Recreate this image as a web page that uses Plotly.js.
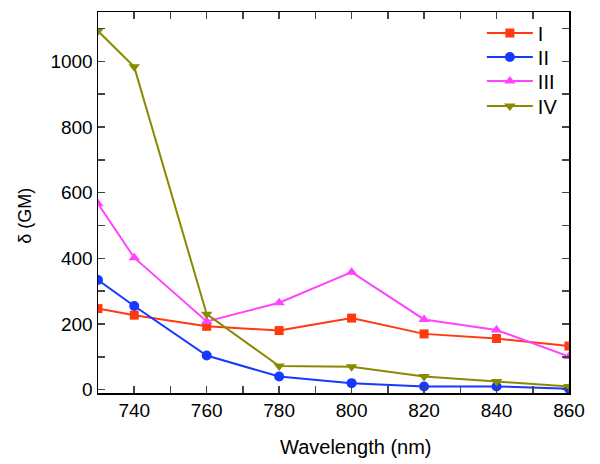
<!DOCTYPE html>
<html>
<head>
<meta charset="utf-8">
<script src="https://cdn.plot.ly/plotly-3.0.1.min.js"></script>
<style>
  html, body { margin: 0; padding: 0; background: #fff; }
  #chart { width: 600px; height: 464px; }
</style>
</head>
<body>
<div id="chart"></div>
<script>
// wavelength (nm) and two-photon cross-section (GM) per compound
let wavelength = [730, 740, 760, 780, 800, 820, 840, 860];
let seriesI   = [247, 227, 193, 180, 218, 170, 156, 133];
let seriesII  = [334, 255, 104, 40, 20, 10, 10, 3];
let seriesIII = [566, 402, 208, 265, 358, 214, 182, 101];
let seriesIV  = [1092, 983, 230, 72, 70, 40, 25, 10];
let names = ["I", "II", "III", "IV"];
let xTicks = [740, 760, 780, 800, 820, 840, 860];
let yTicks = [0, 200, 400, 600, 800, 1000];

const FONT = "Liberation Sans, Arial, sans-serif";

function trace(y, name, color, symbol, size, legendId) {
	return {
		x: wavelength,
		y: y,
		name: name,
		type: 'scatter',
		mode: 'lines+markers',
		line: { color: color, width: 2 },
		marker: { color: color, symbol: symbol, size: size },
		legend: legendId,
	};
}

let data = [
	trace(seriesI, names[0], "#ff3a10", "square", 9, "legend"),
	trace(seriesII, names[1], "#1638ff", "circle", 10, "legend2"),
	trace(seriesIII, names[2], "#ff44ff", "triangle-up", 10, "legend3"),
	trace(seriesIV, names[3], "#8a8a00", "triangle-down", 10, "legend4"),
];

// one legend box per entry so the rows can sit as tight as the original
function legendAt(y) {
	return {
		x: 0.815, y: y, xanchor: 'left', yanchor: 'middle',
		font: { family: FONT, size: 20, color: "#000" },
		bgcolor: 'rgba(0,0,0,0)',
		itemwidth: 46,
	};
}

let axisFont = { family: FONT, size: 19, color: "#000" };

let layout = {
	width: 600,
	height: 464,
	margin: { l: 98, r: 31, t: 12, b: 71 },
	paper_bgcolor: "#fff",
	plot_bgcolor: "#fff",
	showlegend: true,
	legend: legendAt(0.945),
	legend2: legendAt(0.882),
	legend3: legendAt(0.819),
	legend4: legendAt(0.753),
	xaxis: {
		range: [730, 860],
		tickvals: xTicks,
		ticks: 'inside',
		ticklen: 7,
		tickwidth: 1.5,
		minor: { dtick: 10, tick0: 730, ticks: 'inside', ticklen: 7, tickwidth: 1.5 },
		showline: true,
		linecolor: "#000",
		linewidth: 1.5,
		mirror: 'ticks',
		showgrid: false,
		zeroline: false,
		tickfont: axisFont,
	},
	yaxis: {
		range: [-10, 1150],
		tickvals: yTicks,
		ticks: 'inside',
		ticklen: 7,
		tickwidth: 1.5,
		minor: { dtick: 100, tick0: 0, ticks: 'inside', ticklen: 7, tickwidth: 1.5 },
		showline: true,
		linecolor: "#000",
		linewidth: 1.5,
		mirror: 'ticks',
		showgrid: false,
		zeroline: false,
		tickfont: axisFont,
	},
	// axis titles sit off-centre in the original, so place them by hand
	annotations: [
		{
			text: "Wavelength (nm)", xref: 'paper', yref: 'paper',
			x: 0.547, y: -0.142, xanchor: 'center', yanchor: 'middle',
			showarrow: false, font: { family: FONT, size: 20, color: "#000" },
		},
		{
			text: "δ (GM)", xref: 'paper', yref: 'paper', textangle: -90,
			x: -0.155, y: 0.465, xanchor: 'center', yanchor: 'middle',
			showarrow: false, font: { family: FONT, size: 18, color: "#000" },
		},
	],
};

Plotly.newPlot('chart', data, layout, { displayModeBar: false, staticPlot: true });
</script>
</body>
</html>
